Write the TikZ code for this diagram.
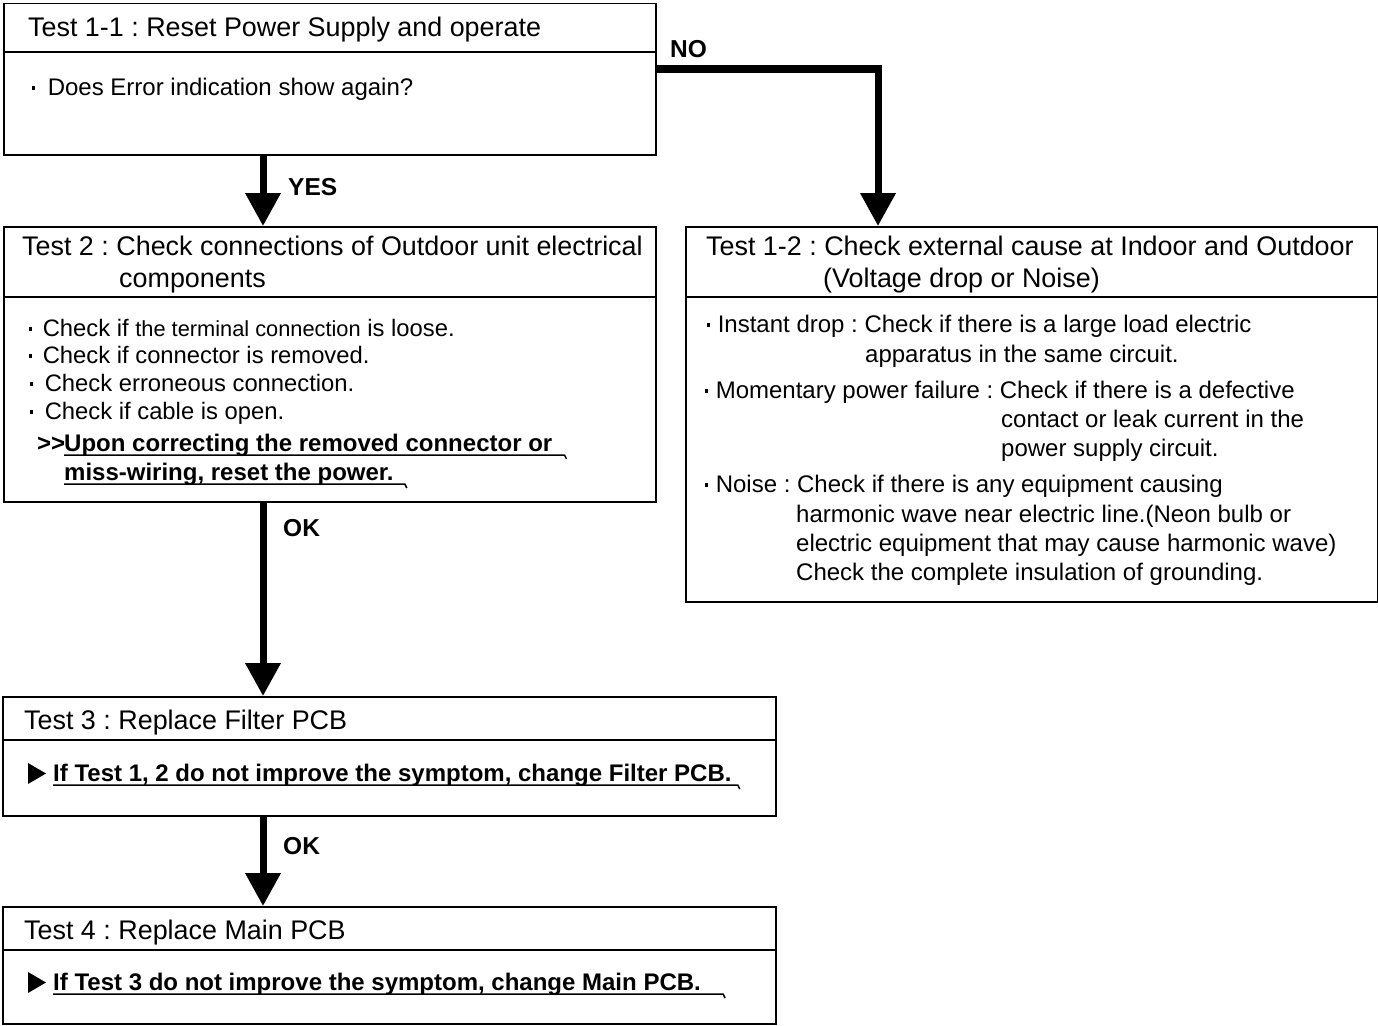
\documentclass[tikz,border=0pt]{standalone}
\usepackage{fontspec}
\setmainfont{Liberation Sans}
\usetikzlibrary{arrows.meta,calc}
\newcommand{\sqb}{\rule[5pt]{2.6pt}{3.6pt}}
\frenchspacing
\begin{document}
\frenchspacing
\begin{tikzpicture}[x=1pt,y=-1pt,
  box/.style={draw=black, line width=1.5pt, anchor=north west, inner sep=0pt},
  divline/.style={line width=1.5pt},
  hdr/.style={anchor=base west, inner sep=0pt, font=\fontsize{26.9}{31}\selectfont},
  txt/.style={anchor=base west, inner sep=0pt, font=\fontsize{24}{28}\selectfont},
  txtb/.style={anchor=base west, inner sep=0pt, font=\fontsize{23.8}{27}\selectfont},
  btxt/.style={anchor=base west, inner sep=0pt, font=\fontsize{24}{28}\selectfont\bfseries},
  tri/.style={fill=black},
  lbl/.style={anchor=base west, inner sep=0pt, font=\fontsize{24.5}{29}\selectfont\bfseries},
  flow/.style={line width=7pt, line join=miter, -{Triangle[length=33pt,width=34pt]}},
  uline/.style={line width=1.5pt}]
\useasboundingbox (0,0) rectangle (1378,1025);

% boxes
\node[box, minimum width=652pt, minimum height=151pt] (b1) at (3,3) {};
\node[box, minimum width=652pt, minimum height=275pt] (b2) at (3,226) {};
\node[box, minimum width=692pt, minimum height=375pt] (b12) at (685,226) {};
\node[box, minimum width=773pt, minimum height=119pt] (b3) at (2,696) {};
\node[box, minimum width=773pt, minimum height=117pt] (b4) at (2,906) {};

% dividers
\draw[divline] ($(b1.north west)+(0,49)$) -- ($(b1.north east)+(0,49)$);
\draw[divline] ($(b2.north west)+(0,71)$) -- ($(b2.north east)+(0,71)$);
\draw[divline] ($(b12.north west)+(0,71)$) -- ($(b12.north east)+(0,71)$);
\draw[divline] ($(b3.north west)+(0,44)$) -- ($(b3.north east)+(0,44)$);
\draw[divline] ($(b4.north west)+(0,44)$) -- ($(b4.north east)+(0,44)$);

% Box 1
\node[hdr] (h1) at (28,37) {Test 1-1 : Reset Power Supply and operate};
\node[txt] (t1) at (32,95) {\sqb\hspace{13pt}Does Error indication show again?};

% Box 2
\node[hdr] (h2a) at (22,255) {Test 2 : Check connections of Outdoor unit electrical};
\node[hdr] (h2b) at (119,287) {components};
\node[txtb] (t2a) at (29,336) {\sqb\hspace{11pt}Check if {\fontsize{21.8}{25}\selectfont the terminal connection} is loose.};
\node[txtb] (t2b) at (29,363) {\sqb\hspace{11pt}Check if connector is removed.};
\node[txtb] (t2c) at (30,391) {\sqb\hspace{12pt}Check erroneous connection.};
\node[txtb] (t2d) at (30,419) {\sqb\hspace{12pt}Check if cable is open.};
\node[btxt] (t2e) at (37,451) {>\kern0pt>};
\node[btxt] (u1) at (64,451) {Upon correcting the removed connector or};
\node[btxt] (u2) at (64,480) {miss-wiring, reset the power.};
\draw[uline] ($(u1.base west)+(0,4)$) -- ($(u1.base east)+(12,4)$) -- ++(2,4);
\draw[uline] ($(u2.base west)+(0,4)$) -- ($(u2.base east)+(11,4)$) -- ++(2,4);

% Box 1-2
\node[hdr] (h3a) at (706,255) {Test 1-2 : Check external cause at Indoor and Outdoor};
\node[hdr] (h3b) at (823,287) {(Voltage drop or Noise)};
\node[txt] (s1) at (707,332) {\sqb\hspace{8pt}Instant drop : Check if there is a large load electric};
\node[txt] (s2) at (865,362) {apparatus in the same circuit.};
\node[txt] (s3) at (705,398) {\sqb\hspace{8pt}Momentary power failure : Check if there is a defective};
\node[txt] (s4) at (1001,427) {contact or leak current in the};
\node[txt] (s5) at (1001,456) {power supply circuit.};
\node[txt] (s6) at (705,492) {\sqb\hspace{8pt}Noise : Check if there is any equipment causing};
\node[txt] (s7) at (796,522) {harmonic wave near electric line.(Neon bulb or};
\node[txt] (s8) at (796,551) {electric equipment that may cause harmonic wave)};
\node[txt] (s9) at (796,580) {Check the complete insulation of grounding.};

% Box 3
\node[hdr] (h4) at (24,729) {Test 3 : Replace Filter PCB};
\node[btxt] (u3) at (53,781) {If Test 1, 2 do not improve the symptom, change Filter PCB.};
\fill[tri] ($(u3.base west)+(-25,3)$) -- ++(0,-21) -- ++(18,10.5) -- cycle;
\draw[uline] ($(u3.base west)+(0,4)$) -- ($(u3.base east)+(6,4)$) -- ++(2,4);

% Box 4
\node[hdr] (h5) at (24,939) {Test 4 : Replace Main PCB};
\node[btxt] (u4) at (53,990) {If Test 3 do not improve the symptom, change Main PCB.};
\fill[tri] ($(u4.base west)+(-25,3)$) -- ++(0,-21) -- ++(18,10.5) -- cycle;
\draw[uline] ($(u4.base west)+(0,4)$) -- ($(u4.base east)+(22,4)$) -- ++(2,4);

% connectors
\draw[flow] ($(b1.south west)+(260,0)$) -- ($(b2.north west)+(260,0)$);
\draw[flow] ($(b1.north east)+(0,66)$) -| ($(b12.north west)+(193,0)$);
\draw[flow] ($(b2.south west)+(260,0)$) -- ($(b3.north west)+(261,0)$);
\draw[flow] ($(b3.south west)+(261,0)$) -- ($(b4.north west)+(261,0)$);

% labels
\node[lbl] (lyes) at (288,195) {YES};
\node[lbl] (lno) at (670,57) {NO};
\node[lbl] (lok1) at (283,536) {OK};
\node[lbl] (lok2) at (283,854) {OK};
\end{tikzpicture}
\end{document}
